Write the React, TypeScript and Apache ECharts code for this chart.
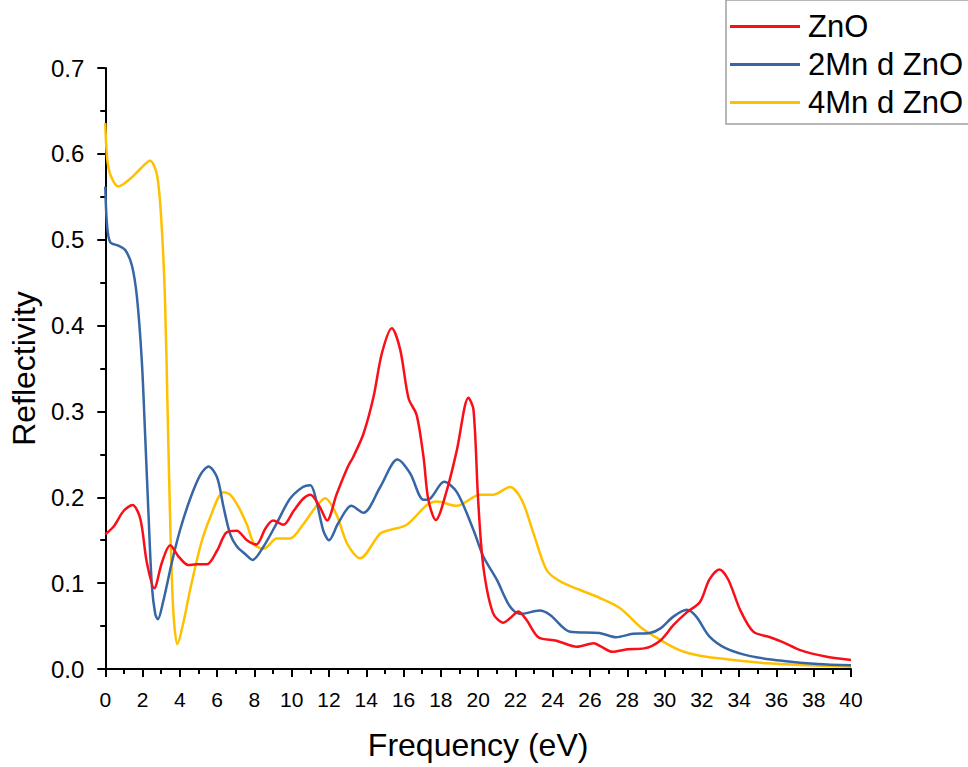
import React, { useEffect, useRef } from "react";
import * as echarts from "echarts";

// Photon energy (eV) and reflectivity for each structure
const znoX = [0, 0.45, 0.98, 1.46, 1.88, 2.23, 2.63, 3.04, 3.48, 3.93, 4.46, 4.9, 5.45, 6.0, 6.5, 7.05, 7.6, 8.1, 8.6, 9.0, 9.55, 10.1, 10.6, 11.0, 11.5, 11.9, 12.4, 13.0, 13.3, 13.85, 14.39, 14.84, 15.37, 15.82, 16.27, 16.7, 17.07, 17.33, 17.73, 18.32, 18.86, 19.48, 19.75, 20.0, 20.28, 20.8, 21.36, 21.8, 22.16, 22.6, 23.23, 24.2, 25.3, 26.2, 26.6, 27.2, 28.0, 28.9, 29.76, 30.47, 31.19, 31.9, 32.4, 32.94, 33.42, 34.05, 34.76, 35.66, 36.37, 37.27, 38.7, 40];
const znoY = [0.157, 0.166, 0.184, 0.191, 0.175, 0.124, 0.094, 0.124, 0.144, 0.131, 0.121, 0.122, 0.122, 0.138, 0.159, 0.161, 0.15, 0.145, 0.164, 0.173, 0.168, 0.184, 0.198, 0.203, 0.189, 0.173, 0.203, 0.235, 0.247, 0.274, 0.317, 0.368, 0.397, 0.372, 0.315, 0.296, 0.247, 0.197, 0.1735, 0.208, 0.255, 0.316, 0.302, 0.197, 0.119, 0.065, 0.054, 0.061, 0.067, 0.057, 0.037, 0.033, 0.026, 0.03, 0.026, 0.02, 0.023, 0.024, 0.033, 0.051, 0.066, 0.078, 0.104, 0.116, 0.104, 0.069, 0.0435, 0.037, 0.031, 0.022, 0.0143, 0.0105];

const mn2X = [0, 0.1, 0.27, 0.7, 1.07, 1.43, 1.7, 1.96, 2.14, 2.32, 2.5, 2.68, 2.82, 3.1, 3.57, 4.0, 4.55, 5.1, 5.54, 6.0, 6.34, 6.7, 7.05, 7.5, 7.9, 8.5, 9.2, 9.9, 10.6, 11.0, 11.3, 11.7, 12.0, 12.5, 13.2, 13.85, 14.75, 15.67, 16.35, 17.07, 17.4, 18.18, 18.86, 19.75, 20.28, 21.0, 21.7, 22.25, 23.3, 23.86, 24.93, 26.5, 27.4, 28.3, 29.2, 29.76, 30.47, 31.19, 31.7, 32.4, 33.3, 34.6, 36.4, 38.2, 40];
const mn2Y = [0.562, 0.516, 0.497, 0.493, 0.488, 0.47, 0.433, 0.359, 0.272, 0.18, 0.097, 0.064, 0.058, 0.078, 0.124, 0.161, 0.198, 0.226, 0.236, 0.223, 0.189, 0.157, 0.143, 0.134, 0.127, 0.143, 0.17, 0.198, 0.212, 0.214, 0.198, 0.161, 0.15, 0.17, 0.19, 0.182, 0.212, 0.244, 0.228, 0.197, 0.198, 0.218, 0.206, 0.162, 0.131, 0.104, 0.073, 0.064, 0.068, 0.063, 0.0435, 0.042, 0.037, 0.041, 0.042, 0.047, 0.061, 0.069, 0.061, 0.038, 0.024, 0.015, 0.0093, 0.0058, 0.0043];

const mn4X = [0, 0.1, 0.27, 0.7, 1.34, 1.9, 2.4, 2.77, 3.0, 3.2, 3.35, 3.5, 3.66, 3.87, 4.2, 4.55, 5.1, 5.6, 6.34, 6.7, 7.14, 7.6, 8.0, 8.5, 9.2, 9.9, 10.6, 11.3, 11.8, 12.4, 13.0, 13.67, 14.75, 15.28, 16.17, 17.25, 17.78, 18.86, 20.1, 20.8, 21.7, 22.34, 22.97, 23.68, 24.4, 25.47, 26.5, 27.6, 28.7, 29.76, 30.8, 31.9, 33.7, 35.5, 37.3, 40];
const mn4Y = [0.636, 0.595, 0.576, 0.562, 0.571, 0.583, 0.592, 0.576, 0.525, 0.433, 0.295, 0.157, 0.064, 0.029, 0.055, 0.092, 0.143, 0.175, 0.206, 0.203, 0.189, 0.168, 0.145, 0.14, 0.152, 0.152, 0.168, 0.189, 0.199, 0.18, 0.145, 0.129, 0.158, 0.162, 0.168, 0.191, 0.195, 0.19, 0.203, 0.203, 0.212, 0.197, 0.158, 0.115, 0.102, 0.092, 0.083, 0.071, 0.049, 0.034, 0.022, 0.0155, 0.0105, 0.0066, 0.0047, 0.0027];

const seriesNames = ["ZnO", "2Mn d ZnO", "4Mn d ZnO"];
const seriesColors = ["#fa0f19", "#3666a6", "#ffc000"];

const FONT = "'Liberation Sans', Arial, sans-serif";

const pairs = (xs: number[], ys: number[]) => xs.map((x, i) => [x, ys[i]]);

export default function App() {
  const ref = useRef<HTMLDivElement>(null);

  useEffect(() => {
    if (!ref.current) return;
    const chart = echarts.init(ref.current, undefined, { renderer: "svg" });
    const data = [pairs(znoX, znoY), pairs(mn2X, mn2Y), pairs(mn4X, mn4Y)];

    chart.setOption({
      animation: false,
      backgroundColor: "#ffffff",
      grid: { left: 105, right: 117, top: 68, bottom: 98 },
      legend: {
        orient: "vertical",
        left: 726,
        top: 0,
        padding: [11, 6, 6, 4],
        borderColor: "#a0a0a0",
        borderWidth: 1.5,
        itemWidth: 70,
        itemHeight: 3,
        itemGap: 7,
        icon: "rect",
        textStyle: { fontSize: 31, fontFamily: FONT, color: "#000", padding: [0, 0, 0, 3] },
        data: seriesNames,
      },
      xAxis: {
        type: "value",
        min: 0,
        max: 40,
        interval: 2,
        name: "Frequency (eV)",
        nameLocation: "middle",
        nameGap: 60,
        nameTextStyle: { fontSize: 32, fontFamily: FONT, color: "#000" },
        axisLine: { onZero: false, lineStyle: { color: "#000", width: 2 } },
        axisTick: { show: true, inside: false, length: 8, lineStyle: { color: "#000", width: 2 } },
        minorTick: { show: true, splitNumber: 2, length: 5, lineStyle: { color: "#000", width: 2 } },
        axisLabel: { fontSize: 21, fontFamily: FONT, color: "#000", margin: 20 },
        splitLine: { show: false },
      },
      yAxis: {
        type: "value",
        min: 0,
        max: 0.7,
        interval: 0.1,
        name: "Reflectivity",
        nameLocation: "middle",
        nameGap: 64,
        nameTextStyle: { fontSize: 32, fontFamily: FONT, color: "#000" },
        axisLine: { show: true, onZero: false, lineStyle: { color: "#000", width: 2 } },
        axisTick: { show: true, inside: false, length: 8, lineStyle: { color: "#000", width: 2 } },
        minorTick: { show: true, splitNumber: 2, length: 5, lineStyle: { color: "#000", width: 2 } },
        axisLabel: {
          fontSize: 24,
          fontFamily: FONT,
          color: "#000",
          margin: 21,
          formatter: (v: number) => v.toFixed(1),
        },
        splitLine: { show: false },
      },
      series: seriesNames.map((name, i) => ({
        name,
        type: "line",
        data: data[i],
        smooth: 0.3,
        symbol: "none",
        color: seriesColors[i],
        lineStyle: { color: seriesColors[i], width: 2.5 },
        z: 3 - i,
      })),
    });

    return () => chart.dispose();
  }, []);

  return <div ref={ref} style={{ width: 968, height: 767, position: "fixed", left: 0, top: 0 }} />;
}
